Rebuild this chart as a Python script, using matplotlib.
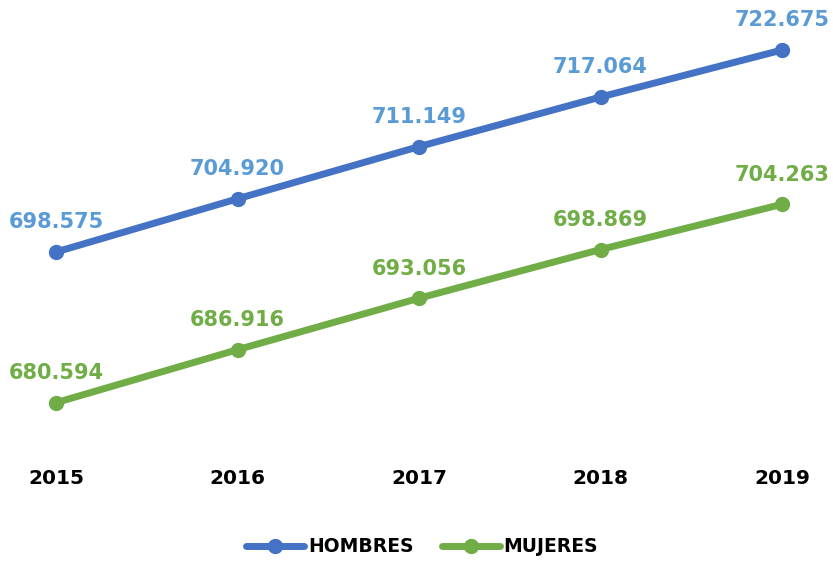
import matplotlib
matplotlib.use("Agg")
import matplotlib.pyplot as plt

years = ["2015", "2016", "2017", "2018", "2019"]
hombres = [698.575, 704.920, 711.149, 717.064, 722.675]
mujeres = [680.594, 686.916, 693.056, 698.869, 704.263]
series_names = ["HOMBRES", "MUJERES"]

line_colors = ["#4472C4", "#70AD47"]
label_colors = ["#5B9BD5", "#70AD47"]

fig = plt.figure(figsize=(8.33, 5.62), dpi=100)
ax = fig.add_axes([0, 1 - 440 / 562, 1, 440 / 562])
x = list(range(len(years)))

for vals, name, lc, tc in zip([hombres, mujeres], series_names, line_colors, label_colors):
    ax.plot(x, vals, color=lc, lw=5, marker="o", markersize=10, label=name,
            solid_capstyle="round")
    for xi, v in zip(x, vals):
        ax.annotate(f"{v:.3f}", (xi, v), xytext=(0, 17), textcoords="offset points",
                    ha="center", va="baseline", color=tc, fontsize=15,
                    fontweight="bold", family="DejaVu Sans")

ax.set_xlim(-56 / 181.5, (833 - 56) / 181.5)
ax.set_ylim(698.575 - (440 - 252) / 8.38, 722.675 + 50 / 8.38)
ax.set_xticks(x)
ax.set_xticklabels(years, fontsize=14.5, fontweight="bold")
ax.tick_params(axis="x", length=0, pad=21)
ax.set_yticks([])
for s in ax.spines.values():
    s.set_visible(False)

leg = fig.legend(loc="center", bbox_to_anchor=(422 / 833, 1 - 547 / 562), ncol=2,
                 frameon=False, prop={"weight": "bold", "size": 13.5},
                 handlelength=3.1, handletextpad=0.2, columnspacing=1.5)

fig.savefig("out.png", dpi=100)
